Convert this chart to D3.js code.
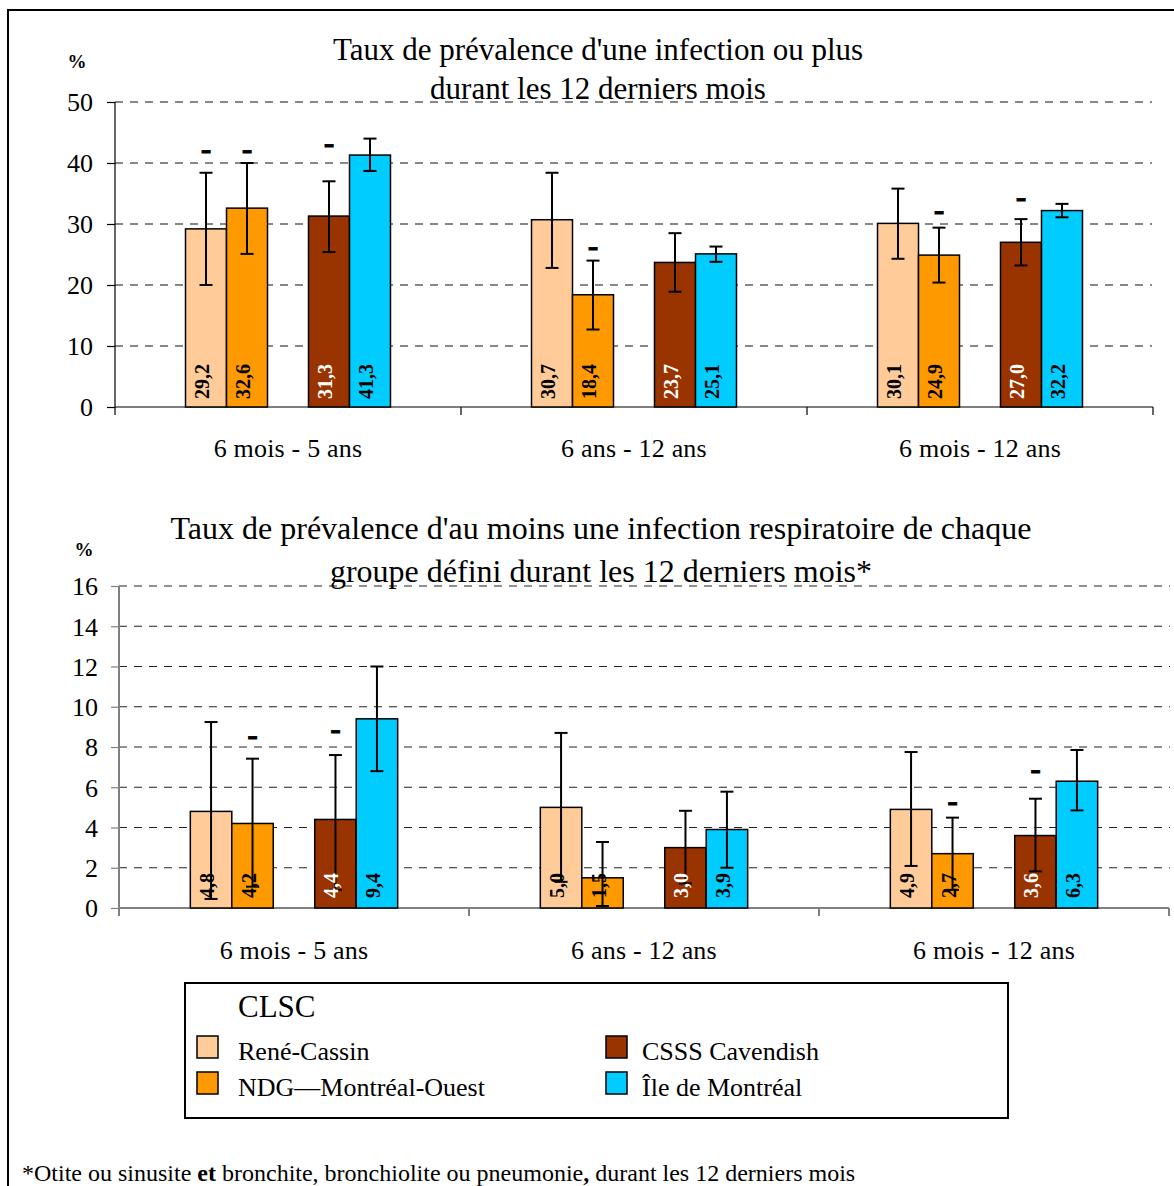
<!DOCTYPE html>
<html><head><meta charset="utf-8">
<script src="https://cdn.jsdelivr.net/npm/d3@7"></script>
<style>
html,body{margin:0;padding:0;background:#fff;}
svg text{font-family:"Liberation Serif","Times New Roman",serif !important;}
</style></head>
<body>
<svg id="c" width="1174" height="1186" font-family="Liberation Serif"></svg>
<script>
const categories = ["6 mois - 5 ans", "6 ans - 12 ans", "6 mois - 12 ans"];
const seriesNames = ["René-Cassin", "NDG—Montréal-Ouest", "CSSS Cavendish", "Île de Montréal"];
const seriesColors = ["#FFCC99", "#FF9900", "#993300", "#00CCFF"];
const seriesSlots = [0, 1, 3, 4];

const topTitle = ["Taux de prévalence d'une infection ou plus", "durant les 12 derniers mois"];
const topTicks = [0, 10, 20, 30, 40, 50];
const topValues = [[29.2, 32.6, 31.3, 41.3], [30.7, 18.4, 23.7, 25.1], [30.1, 24.9, 27.0, 32.2]];
const topLow = [[20.0, 25.1, 25.4, 38.7], [22.8, 12.7, 18.9, 23.8], [24.3, 20.4, 23.2, 31.1]];
const topHigh = [[38.4, 40.0, 37.0, 44.0], [38.4, 24.0, 28.5, 26.3], [35.8, 29.4, 30.8, 33.3]];
const topMarks = [[42.0, 42.0, 43.0, null], [null, 26.0, null, null], [null, 32.0, 34.1, null]];

const botTitle = ["Taux de prévalence d'au moins une infection respiratoire de chaque", "groupe défini durant les 12 derniers mois*"];
const botTicks = [0, 2, 4, 6, 8, 10, 12, 14, 16];
const botValues = [[4.8, 4.2, 4.4, 9.4], [5.0, 1.5, 3.0, 3.9], [4.9, 2.7, 3.6, 6.3]];
const botLow = [[0.45, 1.06, 0.9, 6.8], [1.3, 0.1, 1.22, 2.0], [2.09, 0.9, 1.82, 4.85]];
const botHigh = [[9.24, 7.42, 7.6, 12.0], [8.7, 3.28, 4.83, 5.78], [7.75, 4.49, 5.43, 7.85]];
const botMarks = [[null, 8.5, 8.8, null], [null, null, null, null], [null, 5.23, 6.8, null]];

const legendTitle = "CLSC";
const footnoteParts = [["*Otite ou sinusite ", "normal"], ["et", "bold"], [" bronchite, bronchiolite ou pneumonie", "normal"], [",", "bold"], [" durant les 12 derniers mois", "normal"]];

const FONT = '"Liberation Serif", "Times New Roman", serif';
const fmt = v => v.toFixed(1).replace(".", ",");
const svg = d3.select("#c");

// outer frame
svg.append("path").attr("d", "M8,1186 V10 H1174").attr("fill", "none").attr("stroke", "#000").attr("stroke-width", 2);

function drawChart(o) {
  const g = svg.append("g");
  const x = d3.scaleBand().domain(categories).range([o.x0, o.x1]).padding(0);
  const inner = d3.scaleBand().domain([0, 1, 2, 3, 4]).range([0, x.bandwidth()]).paddingInner(0).paddingOuter(1.72);
  const y = d3.scaleLinear().domain([0, o.max]).range([o.y0, o.y1]);

  // gridlines
  g.append("g").selectAll("line").data(o.ticks.filter(t => t > 0)).join("line")
    .attr("x1", o.x0).attr("x2", o.gridEnd).attr("y1", d => y(d)).attr("y2", d => y(d))
    .attr("stroke", o.gridColor).attr("stroke-width", 1.2).attr("stroke-dasharray", "8,7");

  // y axis
  const ya = g.append("g").attr("transform", `translate(${o.x0},0)`)
    .call(d3.axisLeft(y).tickValues(o.ticks).tickSize(8).tickFormat(d3.format("d")));
  ya.attr("font-family", null).attr("font-size", null);
  ya.select(".domain").remove();
  ya.selectAll(".tick line").attr("stroke", o.axisColor).attr("stroke-width", 1.2);
  ya.selectAll(".tick text").attr("x", o.tickTextX - o.x0).attr("dy", "0.34em").attr("fill", "#000")
    .style("font-family", FONT).style("font-size", "26px");
  g.append("line").attr("x1", o.x0).attr("x2", o.x0).attr("y1", y(o.max)).attr("y2", o.y0 + 8)
    .attr("stroke", o.axisColor).attr("stroke-width", o.axisW);

  // x axis baseline + boundary ticks
  g.append("line").attr("x1", o.x0).attr("x2", o.x1).attr("y1", o.y0).attr("y2", o.y0)
    .attr("stroke", o.axisColor).attr("stroke-width", o.axisW);
  g.append("g").selectAll("line").data(categories.slice(1).concat(["__end"])).join("line")
    .attr("x1", d => d === "__end" ? o.x1 : x(d)).attr("x2", d => d === "__end" ? o.x1 : x(d))
    .attr("y1", o.y0).attr("y2", o.y0 + 8).attr("stroke", o.axisColor).attr("stroke-width", o.axisW);
  const xa = g.append("g").attr("transform", `translate(0,${o.y0})`)
    .call(d3.axisBottom(x).tickSize(0).tickPadding(0));
  xa.attr("font-family", null).attr("font-size", null);
  xa.select(".domain").remove();
  xa.selectAll(".tick text").attr("y", o.catY - o.y0).attr("dy", 0).attr("fill", "#000")
    .style("font-family", FONT).style("font-size", "26px").style("letter-spacing", "0.2px");

  // % label
  g.append("text").attr("x", o.pctX).attr("y", o.pctY).style("font-size", "19px").attr("font-weight", "bold")
    .attr("text-anchor", "middle").text("%");

  // title
  o.title.forEach((t, i) => {
    g.append("text").attr("x", o.titleX).attr("y", o.titleY[i]).attr("text-anchor", "middle")
      .style("font-size", o.titleSize + "px").text(t);
  });

  // bars
  categories.forEach((cat, ci) => {
    seriesNames.forEach((s, si) => {
      const bx = x(cat) + inner(seriesSlots[si]);
      const bw = inner.bandwidth();
      const v = o.values[ci][si];
      g.append("rect").attr("x", bx).attr("y", y(v)).attr("width", bw).attr("height", y(0) - y(v))
        .attr("fill", seriesColors[si]).attr("stroke", "#000").attr("stroke-width", 1.5);
    });
  });
  // error bars
  categories.forEach((cat, ci) => {
    seriesNames.forEach((s, si) => {
      const cx = x(cat) + inner(seriesSlots[si]) + inner.bandwidth() / 2;
      const lo = y(o.low[ci][si]), hi = y(o.high[ci][si]);
      g.append("line").attr("x1", cx).attr("x2", cx).attr("y1", lo).attr("y2", hi).attr("stroke", "#000").attr("stroke-width", 2);
      [lo, hi].forEach(yy => g.append("line").attr("x1", cx - 6.5).attr("x2", cx + 6.5).attr("y1", yy).attr("y2", yy)
        .attr("stroke", "#000").attr("stroke-width", 2));
    });
  });
  // value labels
  categories.forEach((cat, ci) => {
    seriesNames.forEach((s, si) => {
      const cx = x(cat) + inner(seriesSlots[si]) + inner.bandwidth() / 2;
      const ly = y(0) - o.labelPad;
      g.append("text").attr("transform", `translate(${cx + 3},${ly}) rotate(-90)`)
        .style("font-size", "20px").attr("font-weight", "bold").attr("fill", si === 2 ? "#fff" : "#000")
        .text(fmt(o.values[ci][si]));
      const m = o.marks[ci][si];
      if (m !== null) {
        g.append("text").attr("x", cx).attr("y", y(m) + 8).attr("text-anchor", "middle")
          .style("font-size", "32px").attr("font-weight", "bold").attr("stroke", "#000").attr("stroke-width", 0.8)
          .text("-");
      }
    });
  });
}

drawChart({ x0: 115, x1: 1153, gridEnd: 1152, y0: 407, y1: 102, max: 50, ticks: topTicks,
  values: topValues, low: topLow, high: topHigh, marks: topMarks, axisColor: "#000", gridColor: "#111", axisW: 1.2,
  tickTextX: 93, catY: 457, pctX: 77, pctY: 68, title: topTitle, titleX: 598, titleY: [60, 99], titleSize: 31, labelPad: 8 });

drawChart({ x0: 119, x1: 1169, gridEnd: 1170, y0: 908, y1: 586, max: 16, ticks: botTicks,
  values: botValues, low: botLow, high: botHigh, marks: botMarks, axisColor: "#808080", gridColor: "#222", axisW: 2,
  tickTextX: 98, catY: 959, pctX: 84, pctY: 556, title: botTitle, titleX: 601, titleY: [539, 582], titleSize: 32, labelPad: 10 });

// legend
const lg = svg.append("g");
lg.append("rect").attr("x", 185).attr("y", 983).attr("width", 823).attr("height", 135)
  .attr("fill", "#fff").attr("stroke", "#000").attr("stroke-width", 2);
lg.append("text").attr("x", 238).attr("y", 1017).style("font-size", "31px").text(legendTitle);
const legPos = [[197, 1036, 238], [197, 1072, 238], [606, 1036, 642], [606, 1072, 642]];
seriesNames.forEach((s, i) => {
  lg.append("rect").attr("x", legPos[i][0]).attr("y", legPos[i][1]).attr("width", 21).attr("height", 22)
    .attr("fill", seriesColors[i]).attr("stroke", "#000").attr("stroke-width", 1.5);
  lg.append("text").attr("x", legPos[i][2]).attr("y", legPos[i][1] + 24).style("font-size", "26px")
    .text(s);
});

// footnote
const fn = svg.append("text").attr("x", 22).attr("y", 1181).style("font-size", "24px");
footnoteParts.forEach(p => fn.append("tspan").attr("font-weight", p[1]).text(p[0]));
</script>
</body></html>
